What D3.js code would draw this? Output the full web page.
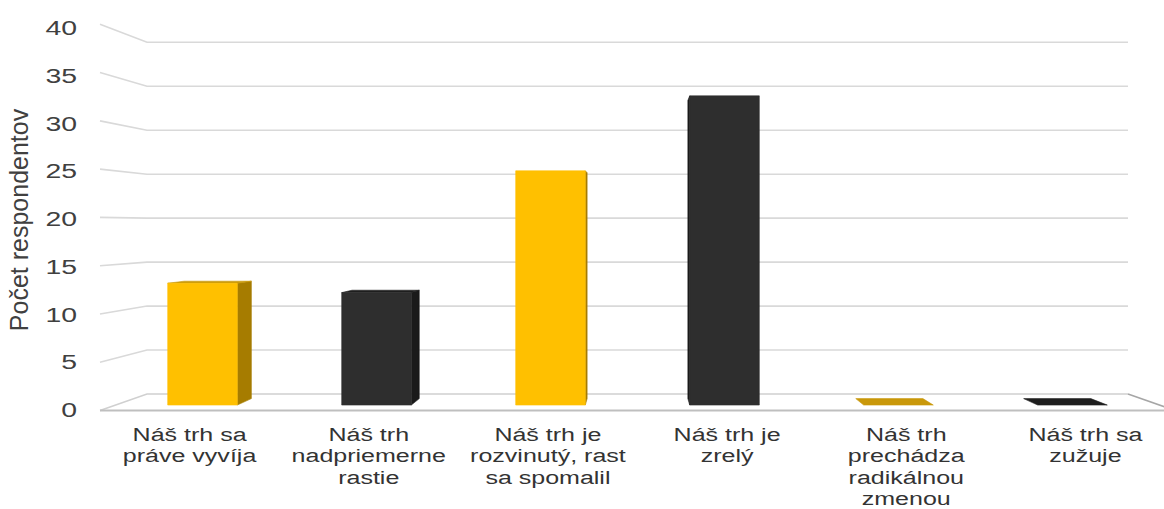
<!DOCTYPE html>
<html>
<head>
<meta charset="utf-8">
<script src="https://cdn.jsdelivr.net/npm/d3@7/dist/d3.min.js"></script>
<style>
  html, body { margin: 0; padding: 0; background: #ffffff; }
  svg { display: block; }
  text { font-family: "Liberation Sans", Arial, sans-serif; }
</style>
</head>
<body>
<svg id="chart" width="1164" height="509"></svg>
<script>
// ---- data ----
const categories = [
  "Náš trh sa práve vyvíja",
  "Náš trh nadpriemerne rastie",
  "Náš trh je rozvinutý, rast sa spomalil",
  "Náš trh je zrelý",
  "Náš trh prechádza radikálnou zmenou",
  "Náš trh sa zužuje"
];
const categoryLines = [
  ["Náš trh sa", "práve vyvíja"],
  ["Náš trh", "nadpriemerne", "rastie"],
  ["Náš trh je", "rozvinutý, rast", "sa spomalil"],
  ["Náš trh je", "zrelý"],
  ["Náš trh", "prechádza", "radikálnou", "zmenou"],
  ["Náš trh sa", "zužuje"]
];
const values = [13, 12, 25, 33, 0, 0];
const tickValues = [0, 5, 10, 15, 20, 25, 30, 35, 40];
const tickLabels = ["0", "5", "10", "15", "20", "25", "30", "35", "40"];
const axisTitle = "Počet respondentov";

// ---- styles ----
const palette = [
  { front: "#FFC000", side: "#A67C00", top: "#C9980A" },
  { front: "#2E2E2E", side: "#1A1A1A", top: "#1E1E1E" }
];

const svg = d3.select("#chart");

// front plane and back wall scales (3D perspective)
const xF = d3.scaleBand().domain(categories).range([100, 1175]).paddingInner(0).paddingOuter(0);
const xB = d3.scaleBand().domain(categories).range([147, 1128]).paddingInner(0).paddingOuter(0);
const yF = d3.scaleLinear().domain([0, 40]).range([410.5, 24.3]);
const yB = d3.scaleLinear().domain([0, 40]).range([394, 42.3]);
const yLabel = d3.scaleLinear().domain([0, 40]).range([410, 28]);

const lerp = (a, b, t) => a + (b - a) * t;
function proj(cat, u, v, t) {
  const xf = xF(cat) + u * xF.bandwidth();
  const xb = xB(cat) + u * xB.bandwidth();
  return [lerp(xf, xb, t), lerp(yF(v), yB(v), t)];
}

// gridlines (left wall edge + back wall)
const gridG = svg.append("g");
tickValues.forEach(v => {
  if (v === 0) return;
  gridG.append("polyline")
    .attr("points", [[xF.range()[0], yF(v)], [xB.range()[0], yB(v)], [xB.range()[1], yB(v)]].map(p => p.join(",")).join(" "))
    .attr("fill", "none").attr("stroke", "#D9D9D9").attr("stroke-width", 1.6);
});
// floor
gridG.append("polyline")
  .attr("points", [[xF.range()[0], yF(0)], [xB.range()[0], yB(0)], [xB.range()[1], yB(0)]].map(p => p.join(",")).join(" "))
  .attr("fill", "none").attr("stroke", "#D0D0D0").attr("stroke-width", 1.6);
gridG.append("line")
  .attr("x1", xB.range()[1]).attr("y1", yB(0))
  .attr("x2", xF.range()[1]).attr("y2", yF(0))
  .attr("stroke", "#A6A6A6").attr("stroke-width", 1.6);
gridG.append("line")
  .attr("x1", xF.range()[0]).attr("y1", yF(0))
  .attr("x2", xF.range()[1]).attr("y2", yF(0))
  .attr("stroke", "#BFBFBF").attr("stroke-width", 2);

// bars
const tF = 0.33, tBk = 0.72, u0 = 0.3, u1 = 0.7;
const barG = svg.append("g");
const poly = (pts, fill) => barG.append("polygon")
  .attr("points", pts.map(p => p.join(",")).join(" "))
  .attr("fill", fill).attr("stroke", fill).attr("stroke-width", 0.6).attr("stroke-linejoin", "round");

categories.forEach((c, i) => {
  const v = values[i];
  const col = palette[i % 2];
  const fBL = proj(c, u0, 0, tF), fBR = proj(c, u1, 0, tF);
  const fTL = proj(c, u0, v, tF), fTR = proj(c, u1, v, tF);
  const bBL = proj(c, u0, 0, tBk), bBR = proj(c, u1, 0, tBk);
  const bTL = proj(c, u0, v, tBk), bTR = proj(c, u1, v, tBk);
  if (v > 0) {
    if (bBR[0] > fBR[0]) poly([fBR, bBR, bTR, fTR], col.side);
    if (bBL[0] < fBL[0]) poly([fBL, bBL, bTL, fTL], col.side);
    if (bTL[1] < fTL[1]) poly([fTL, fTR, bTR, bTL], col.top);
    poly([fBL, fBR, fTR, fTL], col.front);
  } else {
    poly([fTL, fTR, bTR, bTL], col.top);
  }
});

// y tick labels
const tickG = svg.append("g");
tickValues.forEach((v, i) => {
  tickG.append("g")
    .attr("transform", `translate(77,${yLabel(v)}) scale(1.42,1)`)
    .append("text")
    .attr("text-anchor", "end")
    .attr("dy", "0.36em")
    .attr("font-size", 20)
    .attr("fill", "#404040")
    .text(tickLabels[i]);
});

// axis title
svg.append("text")
  .attr("transform", "translate(28,220) rotate(-90)")
  .attr("text-anchor", "middle")
  .attr("font-size", 25)
  .attr("fill", "#404040")
  .text(axisTitle);

// category labels
const catG = svg.append("g");
categories.forEach((c, i) => {
  const cx = xF(c) + xF.bandwidth() / 2;
  const g = catG.append("g").attr("transform", `translate(${cx},0) scale(1.39,1)`);
  categoryLines[i].forEach((line, j) => {
    g.append("text")
      .attr("x", 0)
      .attr("y", 441 + j * 21.5)
      .attr("text-anchor", "middle")
      .attr("font-size", 18)
      .attr("fill", "#333333")
      .text(line);
  });
});
</script>
</body>
</html>
